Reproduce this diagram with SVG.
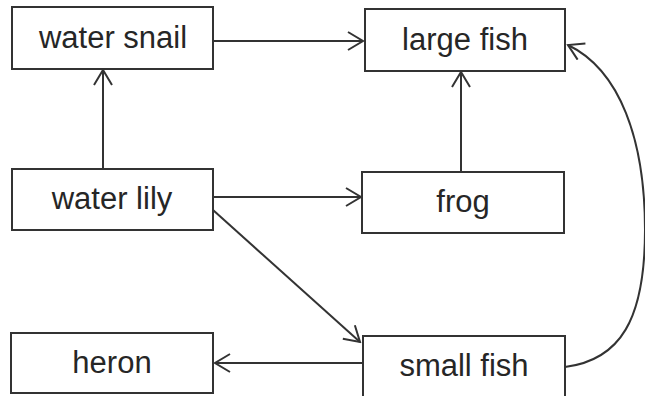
<svg xmlns="http://www.w3.org/2000/svg" width="645" height="396" viewBox="0 0 645 396">
<style>
.box{fill:#fff;stroke:#333;stroke-width:2}
.lbl{font-family:"Liberation Sans",Arial,sans-serif;font-size:31px;fill:#262626;text-anchor:middle}
.edge{fill:none;stroke:#333;stroke-width:2;marker-end:url(#arr)}
</style>
<defs>
<marker id="arr" viewBox="-16 -10 18 20" refX="0" refY="0" markerWidth="18" markerHeight="20" markerUnits="userSpaceOnUse" orient="auto">
<path d="M-15,-9 L0,0 L-15,9" fill="none" stroke="#333" stroke-width="2"/>
</marker>
</defs>
<rect width="645" height="396" fill="#fff"/>
<g id="connectors">
<path class="edge" d="M213,41 H363"/>
<path class="edge" d="M103,169 V70"/>
<path class="edge" d="M461,172 V72"/>
<path class="edge" d="M213,197 H361"/>
<path class="edge" d="M213,210 L360,342"/>
<path class="edge" d="M363,363 H215"/>
<path class="edge" d="M565,367 C620,360 645,320 645,230 C645,140 620,70 568,45"/>
</g>
<g id="water-snail"><rect class="box" x="12" y="7" width="201" height="62"/><text class="lbl" x="113" y="48">water snail</text></g>
<g id="large-fish"><rect class="box" x="365" y="9" width="200" height="62"/><text class="lbl" x="465" y="50">large fish</text></g>
<g id="water-lily"><rect class="box" x="12" y="169" width="201" height="61"/><text class="lbl" x="112" y="209">water lily</text></g>
<g id="frog"><rect class="box" x="362" y="172" width="202" height="61"/><text class="lbl" x="463" y="212">frog</text></g>
<g id="heron"><rect class="box" x="11" y="333" width="202" height="60"/><text class="lbl" x="112" y="373">heron</text></g>
<g id="small-fish"><rect class="box" x="363" y="336" width="202" height="62"/><text class="lbl" x="464" y="376">small fish</text></g>
</svg>
